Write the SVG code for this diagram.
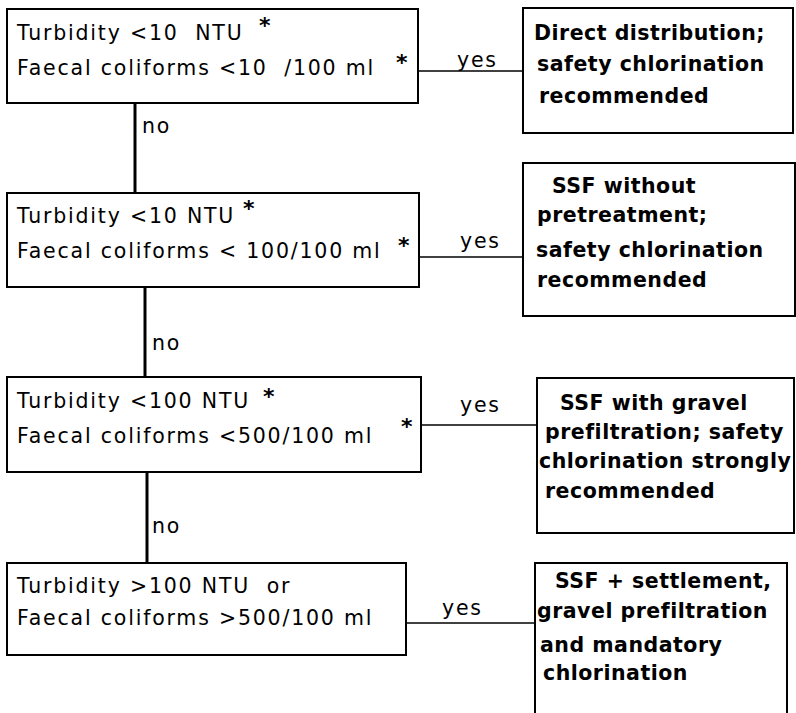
<svg xmlns="http://www.w3.org/2000/svg" width="796" height="713" viewBox="0 0 796 713">
<style>
.box{fill:#fff;stroke:#000;stroke-width:2}
text{white-space:pre}
.t{font-family:"DejaVu Sans","Liberation Sans",sans-serif;font-size:20.5px;fill:#000;letter-spacing:1.8px}
.b{font-family:"DejaVu Sans","Liberation Sans",sans-serif;font-size:20.5px;font-weight:bold;fill:#000;letter-spacing:0.5px}
.ast{font-family:"DejaVu Sans",sans-serif;font-size:22px;font-weight:bold;fill:#000}
.v{stroke:#000;stroke-width:3;fill:none}
.h{stroke:#000;stroke-width:1.5;fill:none}
</style>
<rect width="796" height="713" fill="#fff"/>
<g id="connectors">
<line class="v" x1="135" y1="103" x2="135" y2="193"/>
<line class="v" x1="145" y1="287" x2="145" y2="377"/>
<line class="v" x1="147" y1="472" x2="147" y2="563"/>
<line class="h" x1="418" y1="71" x2="523" y2="71"/>
<line class="h" x1="419" y1="257" x2="523" y2="257"/>
<line class="h" x1="421" y1="425" x2="537" y2="425"/>
<line class="h" x1="406" y1="623" x2="535" y2="623"/>
<text class="t" x="142" y="133">no</text>
<text class="t" x="152" y="350">no</text>
<text class="t" x="152" y="533">no</text>
<text class="t" x="457" y="67">yes</text>
<text class="t" x="460" y="248">yes</text>
<text class="t" x="460" y="412">yes</text>
<text class="t" x="442" y="615">yes</text>
</g>
<g id="q1">
<rect class="box" x="7" y="9" width="411" height="94"/>
<text class="t" x="17" y="40">Turbidity &lt;10  NTU</text>
<text class="ast" x="259" y="33">*</text>
<text class="t" x="17" y="75">Faecal coliforms &lt;10  /100 ml</text>
<text class="ast" x="396" y="70">*</text>
</g>
<g id="a1">
<rect class="box" x="523" y="8" width="270" height="125"/>
<text class="b" x="534" y="40">Direct distribution;</text>
<text class="b" x="537" y="71">safety chlorination</text>
<text class="b" x="539" y="103">recommended</text>
</g>
<g id="q2">
<rect class="box" x="7" y="193" width="412" height="94"/>
<text class="t" x="17" y="223">Turbidity &lt;10 NTU</text>
<text class="ast" x="243" y="216">*</text>
<text class="t" x="17" y="258">Faecal coliforms &lt; 100/100 ml</text>
<text class="ast" x="398" y="253">*</text>
</g>
<g id="a2">
<rect class="box" x="523" y="163" width="272" height="153"/>
<text class="b" x="552" y="193">SSF without</text>
<text class="b" x="537" y="222">pretreatment;</text>
<text class="b" x="536" y="257">safety chlorination</text>
<text class="b" x="537" y="287">recommended</text>
</g>
<g id="q3">
<rect class="box" x="7" y="377" width="414" height="95"/>
<text class="t" x="17" y="408">Turbidity &lt;100 NTU</text>
<text class="ast" x="263" y="404">*</text>
<text class="t" x="17" y="443">Faecal coliforms &lt;500/100 ml</text>
<text class="ast" x="401" y="434">*</text>
</g>
<g id="a3">
<rect class="box" x="537" y="378" width="257" height="155"/>
<text class="b" x="560" y="410">SSF with gravel</text>
<text class="b" x="545" y="439">prefiltration; safety</text>
<text class="b" x="539" y="468">chlorination strongly</text>
<text class="b" x="545" y="498">recommended</text>
</g>
<g id="q4">
<rect class="box" x="7" y="563" width="399" height="92"/>
<text class="t" x="17" y="593">Turbidity &gt;100 NTU  or</text>
<text class="t" x="17" y="625">Faecal coliforms &gt;500/100 ml</text>
</g>
<g id="a4">
<path class="box" d="M535 713 V563 H787 V713"/>
<text class="b" x="555" y="588">SSF + settlement,</text>
<text class="b" x="537" y="618">gravel prefiltration</text>
<text class="b" x="540" y="652">and mandatory</text>
<text class="b" x="543" y="680">chlorination</text>
</g>
</svg>
